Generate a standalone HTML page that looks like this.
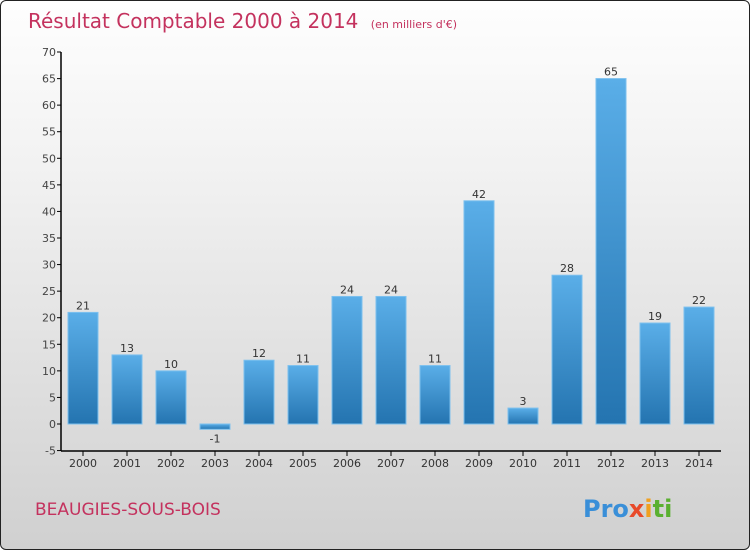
<!DOCTYPE html>
<html><head><meta charset="utf-8"><style>
body{margin:0}
#c{width:750px;height:550px;position:relative;box-sizing:border-box;border:1px solid #222;border-radius:6px;overflow:hidden;background:linear-gradient(#fefefe,#f2f2f2 30%,#d0d0d0);font-family:"DejaVu Sans","Liberation Sans",sans-serif}
</style></head><body>
<div id="c">
<svg width="750" height="550" id="s" style="position:absolute;left:0;top:0">
<defs><linearGradient id="g" x1="0" x2="0" y1="0" y2="1"><stop offset="0" stop-color="#5aaee8"/><stop offset="1" stop-color="#2474b0"/></linearGradient></defs>
<text x="27" y="27" font-size="20" fill="#c4325e">Résultat Comptable 2000 à 2014 <tspan font-size="11" dx="6">(en milliers d'€)</tspan></text>
<text x="34" y="514" font-size="17" fill="#c4325e">BEAUGIES-SOUS-BOIS</text>
<text x="582" y="516" font-size="24" font-weight="bold"><tspan fill="#3a8fd8">Pro</tspan><tspan fill="#e84a2a">x</tspan><tspan fill="#f0a020">i</tspan><tspan fill="#5ab030">ti</tspan></text>
<g id="plot"></g>
</svg>
</div>
<script>
const categories=["2000","2001","2002","2003","2004","2005","2006","2007","2008","2009","2010","2011","2012","2013","2014"];
const values=[21,13,10,-1,12,11,24,24,11,42,3,28,65,19,22];
const ticks=[-5,0,5,10,15,20,25,30,35,40,45,50,55,60,65,70];
const NS="http://www.w3.org/2000/svg";
const g=document.getElementById('plot');
const x0=60,x1=720,band=(x1-x0)/categories.length;
const y=v=>423-v*(372/70);
function mk(t,a,txt){const e=document.createElementNS(NS,t);for(const k in a)e.setAttribute(k,a[k]);if(txt!=null)e.textContent=txt;g.appendChild(e);return e;}
ticks.forEach(t=>{
 const l=mk('line',{x1:x0-4,x2:x0,y1:y(t),y2:y(t),stroke:'#000'});
 
 const tx=mk('text',{x:x0-5,y:y(t)+4,'text-anchor':'end','font-size':11,fill:'#444'},t);
 
});
categories.forEach((c,i)=>{
 const cx=x0+band*(i+0.5),v=values[i];
 const top=Math.min(y(v),y(0)),h=Math.max(Math.abs(y(v)-y(0)),1);
 const r=mk('rect',{x:cx-15,y:top,width:30,height:h,fill:'url(#g)',stroke:'#7cc0ee','stroke-width':1});
 
 const lb=mk('text',{x:cx,y:v>=0?y(v)-3:y(v)+13,'text-anchor':'middle','font-size':11,fill:'#333'},v);
 
 const tk=mk('line',{x1:cx,x2:cx,y1:450,y2:455,stroke:'#000'});
 
 const xl=mk('text',{x:cx,y:466,'text-anchor':'middle','font-size':11,fill:'#333'},c);
 
});
const ya=mk('line',{x1:x0,x2:x0,y1:y(70),y2:450,stroke:'#000','stroke-width':1.5});

const xa=mk('line',{x1:x0,x2:x1,y1:450,y2:450,stroke:'#000','stroke-width':1.5});

</script>
</body></html>
